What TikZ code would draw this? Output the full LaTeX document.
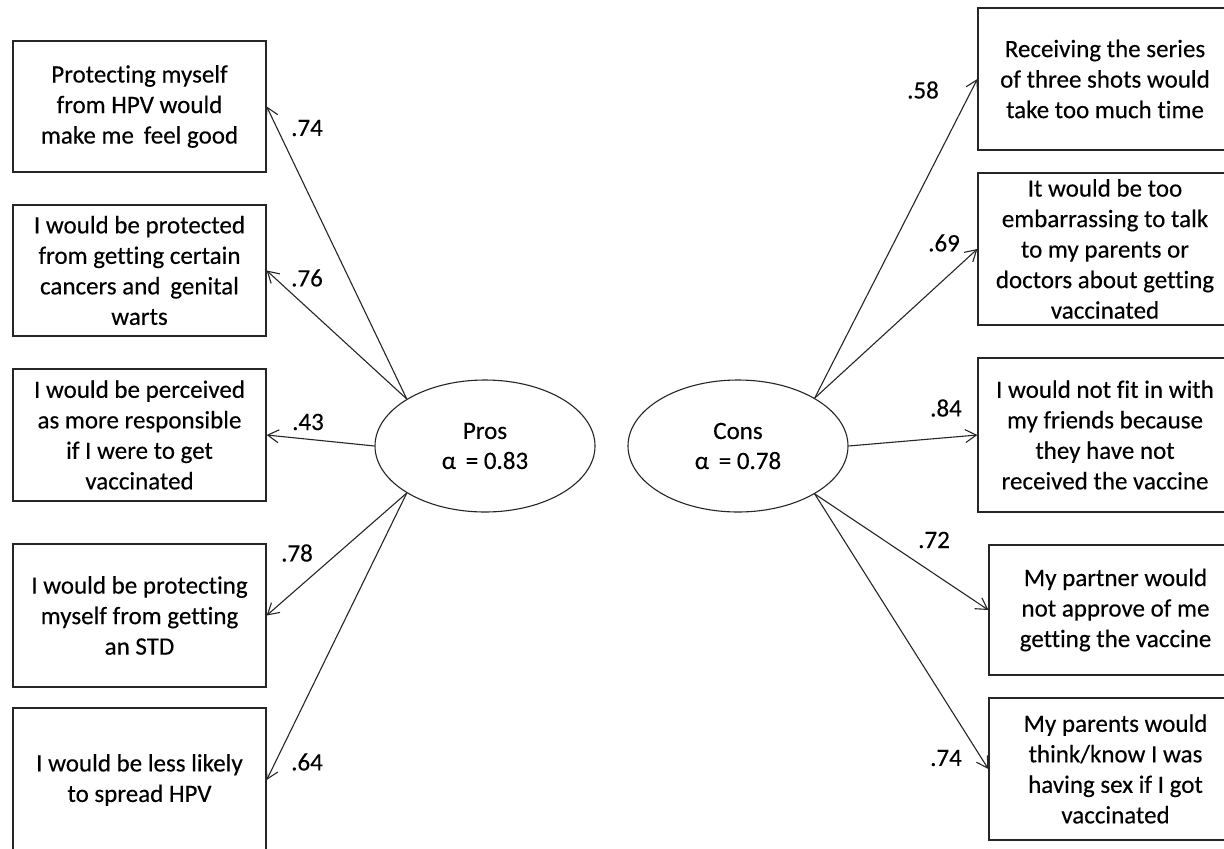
\documentclass[tikz,border=0pt]{standalone}
\usepackage{fontspec}
\setmainfont{Carlito}[Ligatures=NoCommon, FakeBold=0.3]
\usetikzlibrary{shapes.geometric,arrows.meta}
\tikzset{
  item/.style={draw=black!85, line width=1.3pt, fill=white, rectangle, align=center,
    inner sep=0pt, font=\fontsize{25}{30.5}\selectfont},
  factor/.style={draw=black!85, line width=1.1pt, ellipse, minimum width=220, minimum height=132,
    inner sep=0pt, align=center, font=\fontsize{25}{30}\selectfont},
  load/.style={draw=black!85, line width=1.1pt, -{Straight Barb[length=11pt,width=13pt,line width=1.1pt]}},
  coef/.style={font=\fontsize{25}{28}\selectfont, inner sep=0pt}
}
\begin{document}
\begin{tikzpicture}[x=1pt,y=-1pt]
\useasboundingbox (0,0) rectangle (1224,849);
\clip (0,0) rectangle (1224,849);
\fill[white] (0,0) rectangle (1224,849);

% latent factors
\node[factor] (pros) at (485,446) {Pros\\α \,= 0.83};
\node[factor] (cons) at (738,446) {Cons\\α \,= 0.78};

% pros items
\node[item, minimum width=253, minimum height=131] (b1) at (139.5,106.5)
  {Protecting myself\\from HPV would\\make me \,feel good};
\node[item, minimum width=253, minimum height=131] (b2) at (139.5,270.5)
  {I would be protected\\from getting certain\\cancers and \,genital\\warts};
\node[item, minimum width=253, minimum height=132] (b3) at (139.5,435)
  {I would be perceived\\as more responsible\\if I were to get\\vaccinated};
\node[item, minimum width=253, minimum height=143] (b4) at (139.5,615.5)
  {I would be protecting\\myself from getting\\an STD};
\node[item, minimum width=253, minimum height=144] (b5) at (139.5,780)
  {I would be less likely\\to spread HPV};

% cons items
\node[item, minimum width=254, minimum height=142] (r1) at (1105,79)
  {Receiving the series\\of three shots would\\take too much time};
\node[item, minimum width=254, minimum height=152] (r2) at (1105,249)
  {It would be too\\embarrassing to talk\\to my parents or\\doctors about getting\\vaccinated};
\node[item, minimum width=254, minimum height=154] (r3) at (1105,435)
  {I would not fit in with\\my friends because\\they have not\\received the vaccine};
\node[item, minimum width=253, minimum height=130] (r4) at (1115.5,610)
  {My partner would\\not approve of me\\getting the vaccine};
\node[item, minimum width=253, minimum height=142] (r5) at (1115.5,769)
  {My parents would\\think/know I was\\having sex if I got\\vaccinated};

% loadings
\draw[load] (pros.149) -- (b1.east);
\draw[load] (pros.149) -- (b2.east);
\draw[load] (pros.west) -- (b3.east);
\draw[load] (pros.211) -- (b4.east);
\draw[load] (pros.211) -- (b5.east);

\draw[load] (cons.32) -- (r1.west);
\draw[load] (cons.32) -- (r2.west);
\draw[load] (cons.east) -- (r3.west);
\draw[load] (cons.-32) -- (r4.west);
\draw[load] (cons.-32) -- (r5.west);

% loading values
\node[coef] (l1) at (307,128) {.74};
\node[coef] (l2) at (307,278) {.76};
\node[coef] (l3) at (308,422) {.43};
\node[coef] (l4) at (297,553) {.78};
\node[coef] (l5) at (307,762) {.64};
\node[coef] (m1) at (923,90) {.58};
\node[coef] (m2) at (944,243) {.69};
\node[coef] (m3) at (946,408) {.84};
\node[coef] (m4) at (934,540) {.72};
\node[coef] (m5) at (946,758) {.74};
\end{tikzpicture}
\end{document}
